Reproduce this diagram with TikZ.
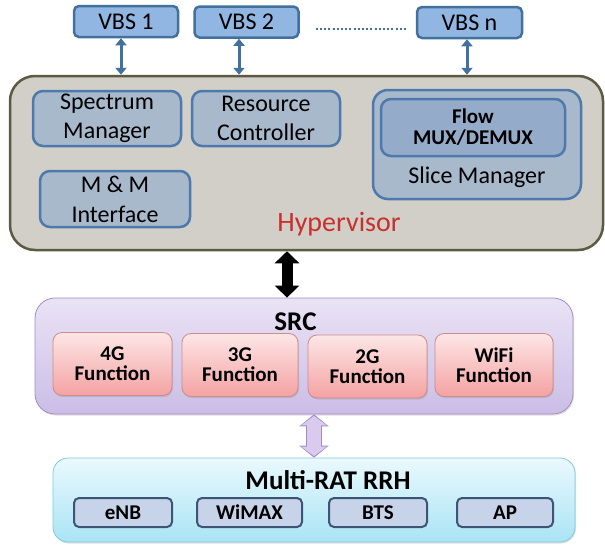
\documentclass[tikz,border=0pt]{standalone}
\usepackage{fontspec}
\setmainfont{Carlito}
\usetikzlibrary{arrows.meta,shadows}

\definecolor{vbsfill}{HTML}{92B6E2}
\definecolor{vbsline}{HTML}{41719C}
\definecolor{hypfill}{HTML}{D1CFC8}
\definecolor{hypline}{HTML}{5C5A42}
\definecolor{innerfill}{HTML}{A8B9CC}
\definecolor{innerline}{HTML}{4D79AD}
\definecolor{flowfill}{HTML}{94ACCA}
\definecolor{hyptext}{HTML}{C8302C}
\definecolor{srctop}{HTML}{EAE3F5}
\definecolor{srcbot}{HTML}{CBBDE6}
\definecolor{srcline}{HTML}{A08CC8}
\definecolor{functop}{HTML}{FDE6E6}
\definecolor{funcbot}{HTML}{F4A2A2}
\definecolor{funcline}{HTML}{CF8A8A}
\definecolor{linkfill}{HTML}{D9CAEE}
\definecolor{rrhtop}{HTML}{EAF9FD}
\definecolor{rrhbot}{HTML}{A9E4F5}
\definecolor{rrhline}{HTML}{7CCBE0}
\definecolor{ratfill}{HTML}{C7D3E9}
\definecolor{ratline}{HTML}{3D5575}

\begin{document}
\begin{tikzpicture}[x=1pt,y=-1pt,
    vbsbox/.style={draw=vbsline, fill=vbsfill, line width=2.5pt, rounded corners=5pt,
      minimum width=104pt, minimum height=31pt, inner sep=0pt, font=\fontsize{24}{28}\selectfont},
    hypbox/.style={draw=innerline, fill=innerfill, line width=2.5pt, rounded corners=10pt,
      minimum width=148pt, minimum height=55pt, inner sep=0pt, align=center,
      font=\fontsize{24}{29}\selectfont},
    funcbox/.style={draw=funcline, line width=0.8pt, top color=functop, bottom color=funcbot,
      rounded corners=9pt, minimum width=118pt, minimum height=63pt, inner sep=0pt, align=center,
      font=\bfseries\fontsize{21}{20}\selectfont,
      drop shadow={opacity=0.25, shadow xshift=1pt, shadow yshift=-1.5pt}},
    ratbox/.style={draw=ratline, fill=ratfill, line width=2pt, rounded corners=5pt,
      minimum width=98pt, minimum height=29pt, inner sep=0pt, font=\bfseries\fontsize{21}{24}\selectfont},
    vbslink/.style={draw=vbsline, line width=3pt,
      {Triangle[length=7pt,width=11pt]}-{Triangle[length=7pt,width=11pt]}}
  ]
  \useasboundingbox (0,0) rectangle (605,544);

  % virtual base stations
  \node[vbsbox] (vbs1) at (126,21.5) {VBS 1};
  \node[vbsbox] (vbs2) at (246.5,22) {VBS 2};
  \node[vbsbox, minimum width=105pt] (vbsn) at (469.5,22.5) {VBS n};
  \draw[vbsline, line width=2.5pt, dash pattern=on 2pt off 2.2pt]
    ([xshift=16pt,yshift=-7pt]vbs2.east) -- ([xshift=-10pt,yshift=-6.5pt]vbsn.west);

  % hypervisor
  \node[draw=hypline, fill=hypfill, line width=2.5pt, rounded corners=25pt,
    minimum width=593pt, minimum height=174pt] (hyp) at (306.5,163) {};
  \node[hypbox] (spec) at (107,118.5) {Spectrum\\Manager};
  \node[hypbox] (rc) at (266,118.5) {Resource\\Controller};
  \node[hypbox, minimum width=150pt, minimum height=56pt, font=\fontsize{24}{30}\selectfont]
    (mm) at (115,199) {M \& M\\Interface};
  \node[hypbox, minimum width=208pt, minimum height=109pt, rounded corners=15pt] (slice) at (477,144.5) {};
  \node[hypbox, fill=flowfill, minimum width=184pt, minimum height=57pt,
    font=\bfseries\fontsize{21}{21}\selectfont] (flow) at (473,127.5) {Flow\\MUX/DEMUX};
  \node[font=\fontsize{24}{28}\selectfont] (slicelbl) at (477,177) {Slice Manager};
  \node[text=hyptext, font=\fontsize{28}{30}\selectfont] (hyplbl) at (339,224) {Hypervisor};

  \draw[vbslink] ([xshift=-5pt]vbs1.south) -- ([xshift=-5pt]vbs1.south |- hyp.north);
  \draw[vbslink] ([xshift=-7.5pt]vbs2.south) -- ([xshift=-7.5pt]vbs2.south |- hyp.north);
  \draw[vbslink] ([xshift=-2.5pt]vbsn.south) -- ([xshift=-2.5pt]vbsn.south |- hyp.north);

  % SRC
  \node[draw=srcline, line width=0.8pt, top color=srctop, bottom color=srcbot, rounded corners=20pt,
    minimum width=538pt, minimum height=116pt,
    drop shadow={opacity=0.25, shadow xshift=1pt, shadow yshift=-1.5pt}] (src) at (304,356) {};
  \node[font=\bfseries\fontsize{27}{30}\selectfont] (srclbl) at (295.5,322) {SRC};
  \node[funcbox, minimum width=119pt] (f4g) at (112.5,364) {4G\\Function};
  \node[funcbox, minimum width=116pt] (f3g) at (240,365) {3G\\Function};
  \node[funcbox, minimum width=119pt] (f2g) at (367.5,366.5) {2G\\Function};
  \node[funcbox] (fwifi) at (494,365) {WiFi\\Function};

  \draw[line width=11pt, {Triangle[length=12pt,width=24pt]}-{Triangle[length=12pt,width=24pt]}]
    (hyp.south -| 287,0) -- (src.north -| 287,0);

  % Multi-RAT RRH
  \node[draw=rrhline, line width=0.8pt, top color=rrhtop, bottom color=rrhbot, rounded corners=15pt,
    minimum width=522pt, minimum height=84pt,
    drop shadow={opacity=0.25, shadow xshift=1pt, shadow yshift=-1.5pt}] (rrh) at (314,500) {};
  \node[font=\bfseries\fontsize{27}{30}\selectfont] (rrhlbl) at (328,480) {Multi-RAT RRH};
  \node[ratbox] (enb) at (123,512.5) {eNB};
  \node[ratbox, minimum width=105pt] (wimax) at (249.5,512.5) {WiMAX};
  \node[ratbox] (bts) at (378,512.5) {BTS};
  \node[ratbox, minimum width=96pt] (ap) at (505,512.5) {AP};

  \draw[srcline, line width=16pt, {Triangle[length=12pt,width=29pt]}-{Triangle[length=12pt,width=29pt]}]
    (src.south -| 314,0) -- (rrh.north -| 314,0);
  \draw[linkfill, line width=13.5pt, shorten <=1.5pt, shorten >=1.5pt,
    {Triangle[length=9.5pt,width=25pt]}-{Triangle[length=9.5pt,width=25pt]}]
    (src.south -| 314,0) -- (rrh.north -| 314,0);
\end{tikzpicture}
\end{document}
